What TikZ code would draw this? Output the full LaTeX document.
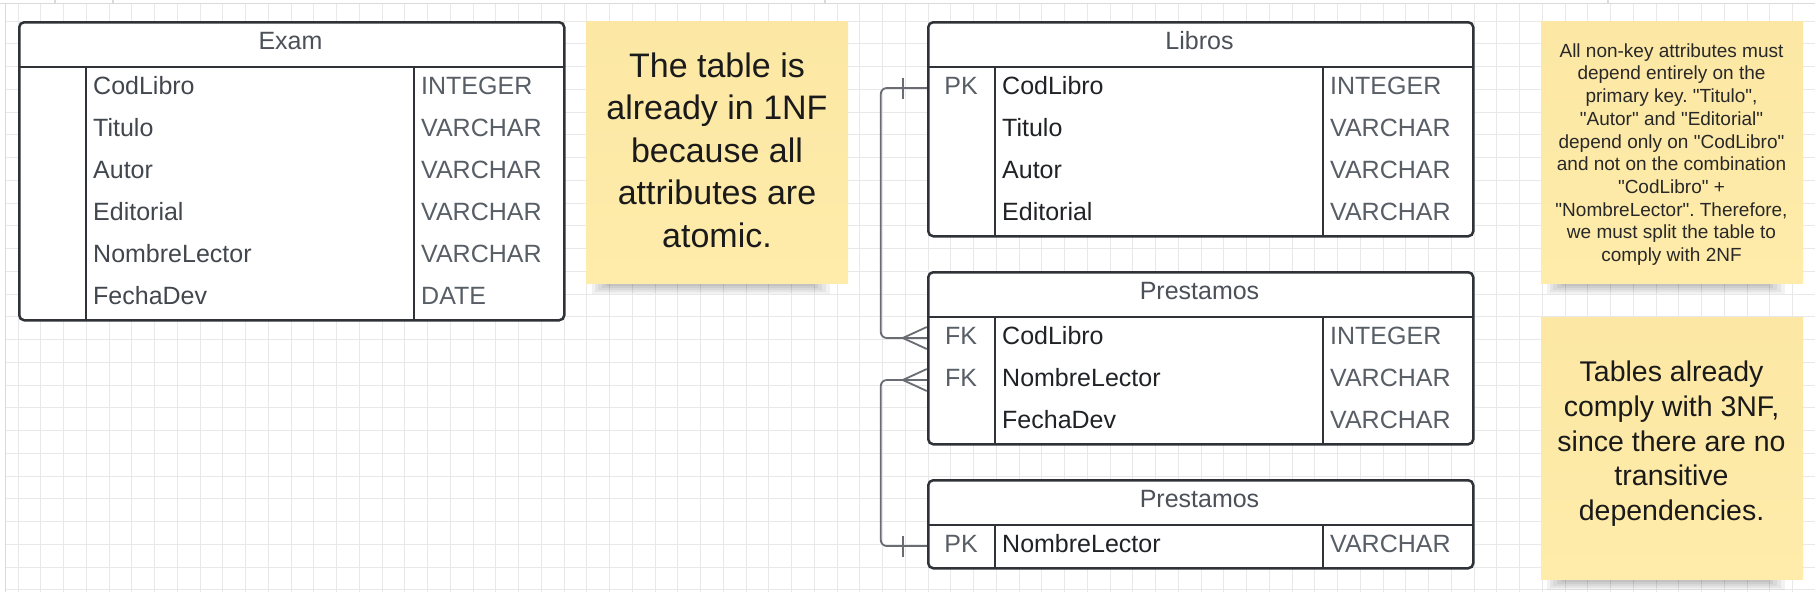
\documentclass[tikz,border=0pt]{standalone}
\usepackage{fontspec}
\setmainfont{Liberation Sans}[Ligatures=TeXOff]
\usetikzlibrary{calc}
\frenchspacing
\definecolor{gridc}{RGB}{232,232,232}
\definecolor{bordc}{RGB}{218,218,218}
\definecolor{edge}{RGB}{47,51,56}
\definecolor{hdr}{RGB}{76,81,89}
\definecolor{fldg}{RGB}{66,71,78}
\definecolor{fldd}{RGB}{32,34,38}
\definecolor{typ}{RGB}{88,94,102}
\definecolor{connc}{RGB}{105,109,115}
\definecolor{noteT}{RGB}{252,231,164}
\definecolor{noteB}{RGB}{255,236,170}
\definecolor{notet}{RGB}{26,26,26}
\begin{document}
\begin{tikzpicture}[x=1pt,y=-1pt,
  gridline/.style={draw=gridc, line width=1pt},
  tbl/.style={draw=edge, line width=2.5pt, rounded corners=5pt, fill=white, anchor=north west, inner sep=0pt, minimum width=545pt},
  sepline/.style={draw=edge, line width=2.2pt},
  hdrtext/.style={font=\fontsize{25}{30}\selectfont, text=hdr, inner sep=0pt, anchor=base},
  cell/.style={font=\fontsize{25}{30}\selectfont, inner sep=0pt, text height=21pt, text depth=9pt, anchor=west},
  keycell/.style={font=\fontsize{25}{30}\selectfont, text=typ, inner sep=0pt, text height=21pt, text depth=9pt, minimum width=68pt, minimum height=42pt, anchor=center},
  conn/.style={draw=connc, line width=1.8pt, rounded corners=6pt},
  connmark/.style={draw=connc, line width=1.8pt},
  note/.style={inner sep=0pt, minimum width=262pt, minimum height=262pt, anchor=north west, top color=noteT, bottom color=noteB, draw=none},
  notetext/.style={align=center, text=notet, inner sep=0pt},
  shade/.style={fill=black, opacity=0.05}
]
\useasboundingbox (0,0) rectangle (1815,592);
\fill[white] (0,0) rectangle (1815,592);
% grid
\foreach \k in {0,...,78} \draw[gridline] ({18+22.75*\k},3.5) -- ({18+22.75*\k},592);
\foreach \k in {0,...,25} \draw[gridline] (5.5,{21+22.75*\k}) -- (1815,{21+22.75*\k});
\draw[draw=bordc, line width=1.2pt] (0,3.5) -- (1815,3.5);
\draw[draw=bordc, line width=1.2pt] (5.5,3.5) -- (5.5,592);
\foreach \x in {55,113,825,1608} \draw[draw=bordc, line width=1.2pt] (\x,0) -- (\x,3.5);

% ---------- Exam ----------
\node[tbl, minimum height=298pt] (exam) at (18,21) {};
\draw[sepline] (18,67) -- (563,67);
\draw[sepline] (86,67) -- (86,319);
\draw[sepline] (414,67) -- (414,319);
\node[hdrtext] (exam-h) at (290.5,49.5) {Exam};
\node[cell, text=fldg] (exam-n1) at (93,88) {CodLibro};
\node[cell, text=fldg] (exam-n2) at (93,130) {Titulo};
\node[cell, text=fldg] (exam-n3) at (93,172) {Autor};
\node[cell, text=fldg] (exam-n4) at (93,214) {Editorial};
\node[cell, text=fldg] (exam-n5) at (93,256) {NombreLector};
\node[cell, text=fldg] (exam-n6) at (93,298) {FechaDev};
\node[cell, text=typ] (exam-t1) at (421,88) {INTEGER};
\node[cell, text=typ] (exam-t2) at (421,130) {VARCHAR};
\node[cell, text=typ] (exam-t3) at (421,172) {VARCHAR};
\node[cell, text=typ] (exam-t4) at (421,214) {VARCHAR};
\node[cell, text=typ] (exam-t5) at (421,256) {VARCHAR};
\node[cell, text=typ] (exam-t6) at (421,298) {DATE};

% ---------- Libros ----------
\node[tbl, minimum height=214pt] (libros) at (927,21) {};
\draw[sepline] (927,67) -- (1472,67);
\draw[sepline] (995,67) -- (995,235);
\draw[sepline] (1323,67) -- (1323,235);
\node[hdrtext] (libros-h) at (1199.5,49.5) {Libros};
\node[keycell] (libros-pk) at (961,88) {PK};
\node[cell, text=fldd] (libros-n1) at (1002,88) {CodLibro};
\node[cell, text=fldd] (libros-n2) at (1002,130) {Titulo};
\node[cell, text=fldd] (libros-n3) at (1002,172) {Autor};
\node[cell, text=fldd] (libros-n4) at (1002,214) {Editorial};
\node[cell, text=typ] (libros-t1) at (1330,88) {INTEGER};
\node[cell, text=typ] (libros-t2) at (1330,130) {VARCHAR};
\node[cell, text=typ] (libros-t3) at (1330,172) {VARCHAR};
\node[cell, text=typ] (libros-t4) at (1330,214) {VARCHAR};

% ---------- Prestamos 1 ----------
\node[tbl, minimum height=172pt] (pa) at (927,271) {};
\draw[sepline] (927,317) -- (1472,317);
\draw[sepline] (995,317) -- (995,443);
\draw[sepline] (1323,317) -- (1323,443);
\node[hdrtext] (pa-h) at (1199.5,299.5) {Prestamos};
\node[keycell] (pa-fk1) at (961,338) {FK};
\node[keycell] (pa-fk2) at (961,380) {FK};
\node[cell, text=fldd] (pa-n1) at (1002,338) {CodLibro};
\node[cell, text=fldd] (pa-n2) at (1002,380) {NombreLector};
\node[cell, text=fldd] (pa-n3) at (1002,422) {FechaDev};
\node[cell, text=typ] (pa-t1) at (1330,338) {INTEGER};
\node[cell, text=typ] (pa-t2) at (1330,380) {VARCHAR};
\node[cell, text=typ] (pa-t3) at (1330,422) {VARCHAR};

% ---------- Prestamos 2 ----------
\node[tbl, minimum height=88pt] (pb) at (927,479) {};
\draw[sepline] (927,525) -- (1472,525);
\draw[sepline] (995,525) -- (995,567);
\draw[sepline] (1323,525) -- (1323,567);
\node[hdrtext] (pb-h) at (1199.5,507.5) {Prestamos};
\node[keycell] (pb-pk) at (961,546) {PK};
\node[cell, text=fldd] (pb-n1) at (1002,546) {NombreLector};
\node[cell, text=typ] (pb-t1) at (1330,546) {VARCHAR};

% ---------- connectors ----------
\draw[conn] (libros-pk.west) -- ++(-46,0) |- (pa-fk1.west);
\draw[connmark] ($(libros-pk.west)+(-24,-10.5)$) -- ($(libros-pk.west)+(-24,10.5)$);
\draw[connmark] ($(pa-fk1.west)+(0,-11)$) -- ($(pa-fk1.west)+(-24,0)$) -- ($(pa-fk1.west)+(0,11)$);
\draw[conn] (pa-fk2.west) -- ++(-46,0) |- (pb-pk.west);
\draw[connmark] ($(pa-fk2.west)+(0,-11)$) -- ($(pa-fk2.west)+(-24,0)$) -- ($(pa-fk2.west)+(0,11)$);
\draw[connmark] ($(pb-pk.west)+(-24,-10.5)$) -- ($(pb-pk.west)+(-24,10.5)$);

% ---------- sticky notes ----------
\foreach \l/\b in {586/283, 1541/283, 1541/579} {
  \fill[shade] (\l+6,\b-6) rectangle (\l+244,\b+11);
  \fill[shade] (\l+9,\b-6) rectangle (\l+240,\b+9);
  \fill[shade] (\l+12,\b-6) rectangle (\l+236,\b+7);
  \fill[shade] (\l+16,\b-6) rectangle (\l+232,\b+5);
  \fill[shade] (\l+20,\b-6) rectangle (\l+228,\b+3);
}
\node[note] (n1) at (586,21) {};
\node[note] (n2) at (1541,21) {};
\node[note] (n3) at (1541,317) {};
\node[notetext, font=\fontsize{34}{42.5}\selectfont] (n1t) at (717,150) {The table is\\already in 1NF\\because all\\attributes are\\atomic.};
\node[notetext, font=\fontsize{19}{22.7}\selectfont\frenchspacing, text={rgb,255:red,40;green,40;blue,40}] (n2t) at (1671.5,154.5) {All non-key attributes must\\depend entirely on the\\primary key. "Titulo",\\"Autor" and "Editorial"\\depend only on "CodLibro"\\and not on the combination\\"CodLibro" +\\"NombreLector". Therefore,\\we must split the table to\\comply with 2NF};
\node[notetext, font=\fontsize{28.5}{34.7}\selectfont] (n3t) at (1671.5,443.7) {Tables already\\comply with 3NF,\\since there are no\\transitive\\dependencies.};
\end{tikzpicture}
\end{document}
